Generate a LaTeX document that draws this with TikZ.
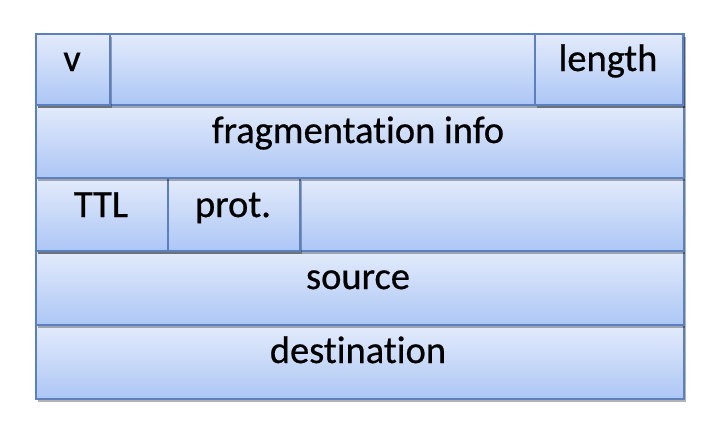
\documentclass[tikz,border=0pt]{standalone}
\usepackage{fontspec}
\setmainfont{Carlito}[Ligatures=NoCommon, FakeBold=0.6]
\usetikzlibrary{shadows}
\definecolor{boxline}{RGB}{92,128,190}
\definecolor{boxtop}{RGB}{227,235,251}
\definecolor{boxbot}{RGB}{172,198,245}
\begin{document}
\begin{tikzpicture}[x=1pt,y=-1pt,
  fbox/.style={draw=boxline, line width=2.4pt, top color=boxtop, bottom color=boxbot,
    drop shadow={shadow xshift=2pt, shadow yshift=-3pt, opacity=0.3, fill=black},
    anchor=north west, inner sep=0pt, minimum height=#1},
  fbox/.default=73pt,
  lbl/.style={font=\fontsize{38.5}{40}\selectfont, anchor=base, inner sep=0pt}]
\useasboundingbox (0,0) rectangle (718,424);
% row 5
\node[fbox=74pt, minimum width=648pt] (dst) at (35,324) {};
\node[lbl] (dstt) at (358,363) {destination};
% row 4
\node[fbox=74pt, minimum width=648pt] (src) at (35,250) {};
\node[lbl] (srct) at (358,289) {source};
% row 3
\node[fbox=73pt, minimum width=648pt] (r3) at (35,177) {};
\node[fbox=73pt, minimum width=132pt] (ttl) at (35,177) {};
\node[fbox=73pt, minimum width=132pt] (prot) at (167,177) {};
\node[lbl] (ttlt) at (101,217) {TTL};
\node[lbl] (prott) at (233,217) {prot.};
% row 2
\node[fbox=73pt, minimum width=648pt] (frag) at (35,104) {};
\node[lbl] (fragt) at (358,143) {fragmentation info};
% row 1
\node[fbox=71pt, minimum width=648pt] (r1) at (35,33) {};
\node[fbox=71pt, minimum width=74pt] (v) at (35,33) {};
\node[fbox=71pt, minimum width=148pt] (len) at (534,33) {};
\node[lbl] (vt) at (72,71) {v};
\node[lbl] (lent) at (608,71) {length};
\end{tikzpicture}
\end{document}
